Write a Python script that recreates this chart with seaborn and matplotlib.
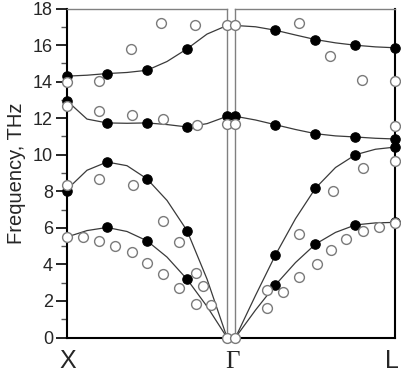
import numpy as np
import pandas as pd
import matplotlib
matplotlib.use("Agg")
import matplotlib.pyplot as plt
from matplotlib.ticker import MultipleLocator
import seaborn as sns

sns.set_style("ticks")
plt.rcParams['font.family'] = ['Liberation Sans', 'DejaVu Sans']

# reduced wave vector along each segment (0 = start, 1 = end)
q_curve = [0, 0.125, 0.25, 0.375, 0.5, 0.625, 0.75, 0.875, 1.0]
q_fill = [0, 0.25, 0.5, 0.75, 1.0]

# X -> Gamma : calculated branches (THz)
xg_top = [14.3, 14.35, 14.44, 14.5, 14.62, 15.1, 15.79, 16.6, 17.07]
xg_mid = [12.95, 11.95, 11.74, 11.72, 11.74, 11.65, 11.52, 11.7, 12.1]
xg_up = [8.1, 9.15, 9.6, 9.4, 8.68, 7.5, 5.85, 3.2, 0.0]
xg_low = [5.5, 5.85, 6.02, 5.8, 5.29, 4.4, 3.19, 1.7, 0.0]

# Gamma -> L : calculated branches (THz)
gl_top = [17.07, 17.0, 16.81, 16.55, 16.30, 16.12, 15.99, 15.9, 15.85]
gl_mid = [12.1, 11.9, 11.64, 11.38, 11.15, 11.03, 10.97, 10.9, 10.86]
gl_up = [0.0, 2.3, 4.52, 6.5, 8.17, 9.3, 10.0, 10.3, 10.42]
gl_low = [0.0, 1.5, 2.88, 4.1, 5.11, 5.75, 6.16, 6.27, 6.3]

# filled symbols
xg_fill = {
    "top": [14.3, 14.44, 14.62, 15.79, np.nan],
    "mid": [12.95, 11.74, 11.74, 11.52, 12.1],
    "up": [8.03, 9.6, 8.68, 5.85, np.nan],
    "low": [np.nan, 6.02, 5.29, 3.19, np.nan],
}
gl_fill = {
    "top": [np.nan, 16.81, 16.30, 15.99, 15.85],
    "mid": [12.1, 11.64, 11.15, 10.97, 10.86],
    "up": [np.nan, 4.52, 8.17, 10.0, 10.42],
    "low": [np.nan, 2.88, 5.11, 6.16, 6.3],
}

# open symbols (q, THz)
xg_open_q = [0, 0, 0, 0, 0.2, 0.4, 0.59, 0.8, 1.0, 0.2, 0.406, 0.6, 0.81, 1.0,
             0.2, 0.41, 0.6, 0.7, 0.1, 0.2, 0.3, 0.406, 0.5, 0.6, 0.7, 0.806,
             0.85, 0.806, 0.903, 1.0]
xg_open_f = [13.96, 12.68, 8.34, 5.52, 14.05, 15.81, 17.18, 17.07, 17.07, 12.37,
             12.15, 11.95, 11.64, 11.66, 8.67, 8.36, 6.38, 5.20, 5.52, 5.30, 5.03,
             4.70, 4.10, 3.46, 2.73, 3.52, 2.82, 1.82, 1.76, 0.0]
gl_open_q = [0, 0, 0, 0.40, 0.59, 0.79, 1.0, 1.0, 1.0, 0.80, 0.607, 0.40, 0.195,
             0.30, 0.195, 0.40, 0.507, 0.60, 0.69, 0.80, 0.90, 1.0]
gl_open_f = [17.07, 11.66, 0.0, 17.21, 15.42, 14.11, 14.05, 11.59, 9.63, 9.27, 8.0,
             5.65, 2.60, 2.51, 1.60, 3.30, 4.03, 4.76, 5.38, 5.84, 6.07, 6.26]

fig = plt.figure(figsize=(4.02, 3.73), dpi=100)
ax1 = fig.add_axes([67 / 402, 35.5 / 373, 160 / 402, 329 / 373])
ax2 = fig.add_axes([235.5 / 402, 35.5 / 373, 160 / 402, 329 / 373])

line_kw = dict(color="#3a3a3a", lw=0.9, legend=False)
fill_kw = dict(color="black", s=46, edgecolor="black", linewidth=0.8, clip_on=False, zorder=3, legend=False)
open_kw = dict(color="white", s=50, edgecolor="#7a7a7a", linewidth=1.0, clip_on=False, zorder=4, legend=False)

for ax, curves, filled, oq, of in [
    (ax1, [xg_top, xg_mid, xg_up, xg_low], xg_fill, xg_open_q, xg_open_f),
    (ax2, [gl_top, gl_mid, gl_up, gl_low], gl_fill, gl_open_q, gl_open_f),
]:
    for c in curves:
        sns.lineplot(x=q_curve, y=c, ax=ax, **line_kw)
    for key in filled:
        sns.scatterplot(x=q_fill, y=filled[key], ax=ax, **fill_kw)
    sns.scatterplot(x=oq, y=of, ax=ax, **open_kw)
    ax.set_xlim(0, 1)
    ax.set_ylim(0, 18)
    ax.set_xticks([])
    ax.set_xlabel("")

for ax in (ax1, ax2):
    for s in ax.spines.values():
        s.set_color("#808080")
        s.set_linewidth(1.0)
    ax.spines["bottom"].set_color("black")
    ax.spines["bottom"].set_linewidth(1.5)

ax1.spines["left"].set_color("black")
ax1.spines["left"].set_linewidth(1.5)
ax2.spines["right"].set_color("black")
ax2.spines["right"].set_linewidth(1.5)

ax1.yaxis.set_major_locator(MultipleLocator(2))
ax1.yaxis.set_minor_locator(MultipleLocator(1))
ax1.tick_params(axis="y", which="major", length=8, width=1.2, labelsize=13, pad=2, color="black")
ax1.tick_params(axis="y", which="minor", length=4, width=1.0, color="#555555")
ax1.set_ylabel("Frequency, THz", fontsize=14.5, labelpad=5)
ax2.set_yticks([])
ax2.set_ylabel("")

fig.text(68 / 402, 1 - 361 / 373, "X", fontsize=18, ha="center", va="center")
fig.text(232 / 402, 1 - 362 / 373, "\u0393", fontsize=18, ha="center", va="center",
         family=["Liberation Serif", "DejaVu Serif"])
fig.text(392 / 402, 1 - 361 / 373, "L", fontsize=18, ha="center", va="center")

fig.savefig("out.png", dpi=100)
